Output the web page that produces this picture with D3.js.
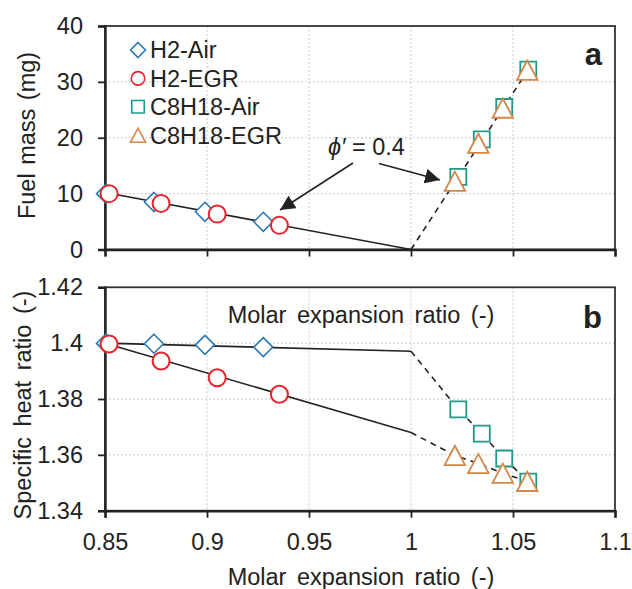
<!DOCTYPE html>
<html><head><meta charset="utf-8">
<script src="https://cdn.jsdelivr.net/npm/d3@7"></script>
<style>body{margin:0;background:#fff}svg{display:block}text{font-family:"Liberation Sans",Arial,sans-serif;fill:#222}</style>
</head><body>
<script>
// ---- data ----
const h2AirX = [0.8505, 0.874, 0.899, 0.9276];
const h2AirMass = [10.0, 8.5, 6.75, 4.96];
const h2AirGamma = [1.3999, 1.3998, 1.3994, 1.3986];
const h2EgrX = [0.852, 0.8775, 0.905, 0.9355];
const h2EgrMass = [10.0, 8.25, 6.34, 4.32];
const h2EgrGamma = [1.3997, 1.3936, 1.3876, 1.3817];
const c8AirX = [1.0232, 1.0347, 1.0457, 1.0575];
const c8AirMass = [13.0, 19.7, 25.5, 32.2];
const c8AirGamma = [1.3763, 1.3676, 1.3587, 1.3504];
const c8EgrX = [1.0215, 1.033, 1.045, 1.057];
const c8EgrMass = [12.2, 19.0, 25.3, 32.1];
const c8EgrGamma = [1.3598, 1.3569, 1.3534, 1.3505];
// trend lines (solid to x=1, dashed beyond)
const massSolidX = [0.85, 1.0], massSolidY = [10.2, 0];
const massDashX = [1.0, 1.0575], massDashY = [0, 32.2];
const gAirSolidX = [0.85, 1.0], gAirSolidY = [1.4, 1.3971];
const gEgrSolidX = [0.85, 1.0], gEgrSolidY = [1.4, 1.368];
const gAirDashX = [1.0].concat(c8AirX), gAirDashY = [1.3971].concat(c8AirGamma);
const gEgrDashX = [1.0].concat(c8EgrX), gEgrDashY = [1.368].concat(c8EgrGamma);
const xTicks = [0.85, 0.9, 0.95, 1, 1.05, 1.1];
const xTickLabels = ["0.85", "0.9", "0.95", "1", "1.05", "1.1"];
const massTicks = [0, 10, 20, 30, 40];
const gammaTicks = [1.34, 1.36, 1.38, 1.40, 1.42];
const gammaTickLabels = ["1.34", "1.36", "1.38", "1.4", "1.42"];
const seriesNames = ["H2-Air", "H2-EGR", "C8H18-Air", "C8H18-EGR"];
const seriesColors = ["#2a78b5", "#e8232b", "#1c9a8c", "#d4884a"];
const seriesShapes = ["diamond", "circle", "square", "triangle"];

const W = 632, H = 589;
const svg = d3.select("body").append("svg").attr("width", W).attr("height", H);
const x = d3.scaleLinear().domain([0.85, 1.1]).range([105, 615]);
const yM = d3.scaleLinear().domain([0, 40]).range([249.5, 26]);
const yG = d3.scaleLinear().domain([1.34, 1.42]).range([510.7, 287.3]);

function shapePath(shape, s) {
  const h = s / 2;
  if (shape === "diamond") return `M0,${-h}L${h},0L0,${h}L${-h},0Z`;
  if (shape === "square") return `M${-h},${-h}H${h}V${h}H${-h}Z`;
  if (shape === "triangle") { const t = s * 0.47; return `M0,${-t}L${h},${t}L${-h},${t}Z`; }
  return `M${h},0A${h},${h},0,1,1,${-h},0A${h},${h},0,1,1,${h},0Z`;
}
const plotSize = {diamond: 19, circle: 17, square: 16, triangle: 20.5};
const legSize = {diamond: 15, circle: 13.5, square: 12.5, triangle: 15};
const strokeW = {diamond: 1.6, circle: 2, square: 1.8, triangle: 1.8};

function panel(y, ticks, labels, gLabel) {
  const g = svg.append("g");
  g.selectAll(".gx").data(xTicks.slice(1, -1)).join("line")
    .attr("x1", d => x(d)).attr("x2", d => x(d))
    .attr("y1", y.range()[1]).attr("y2", y.range()[0])
    .attr("stroke", "#c8c8c8").attr("stroke-width", 1).attr("stroke-dasharray", "2,2");
  g.selectAll(".gy").data(ticks.slice(1, -1)).join("line")
    .attr("x1", 105).attr("x2", 615)
    .attr("y1", d => y(d)).attr("y2", d => y(d))
    .attr("stroke", "#c8c8c8").attr("stroke-width", 1).attr("stroke-dasharray", "2,2");
  g.append("rect").attr("x", 105).attr("y", y.range()[1]).attr("width", 510)
    .attr("height", y.range()[0] - y.range()[1]).attr("fill", "none")
    .attr("stroke", "#333").attr("stroke-width", 1.8);
  const xa = d3.axisBottom(x).tickValues(xTicks).tickSize(7)
    .tickFormat((d, i) => gLabel ? xTickLabels[i] : "");
  const ax = g.append("g").attr("transform", `translate(0,${y.range()[0]})`).call(xa);
  ax.select(".domain").attr("stroke", "#222").attr("stroke-width", 2.4);
  ax.selectAll(".tick line").attr("stroke", "#222").attr("stroke-width", 1.8);
  ax.selectAll(".tick text").attr("font-size", 23.5).attr("dy", 29.3).attr("fill", "#222");
  const ya = d3.axisLeft(y).tickValues(ticks).tickSize(7).tickPadding(15)
    .tickFormat((d, i) => labels[i]);
  const ay = g.append("g").attr("transform", "translate(105,0)").call(ya);
  ay.select(".domain").attr("stroke", "#222").attr("stroke-width", 2.4);
  ay.selectAll(".tick line").attr("stroke", "#222").attr("stroke-width", 1.8);
  ay.selectAll(".tick text").attr("font-size", 23.5).attr("fill", "#222");
  return g;
}

const gA = panel(yM, massTicks, massTicks.map(String), false);
const gB = panel(yG, gammaTicks, gammaTickLabels, true);

function drawLine(g, xs, ys, y, dashed) {
  g.append("path").datum(xs.map((v, i) => [v, ys[i]]))
    .attr("d", d3.line().x(d => x(d[0])).y(d => y(d[1])))
    .attr("fill", "none").attr("stroke", "#222").attr("stroke-width", 1.6)
    .attr("stroke-dasharray", dashed ? "6,5" : null);
}
function drawPts(g, xs, ys, y, k) {
  const sh = seriesShapes[k];
  g.selectAll(null).data(xs.map((v, i) => [v, ys[i]])).join("path")
    .attr("transform", d => `translate(${x(d[0])},${y(d[1])})`)
    .attr("d", shapePath(sh, plotSize[sh]))
    .attr("fill", "#fff").attr("stroke", seriesColors[k]).attr("stroke-width", strokeW[sh]);
}

drawLine(gA, massSolidX, massSolidY, yM, false);
drawLine(gA, massDashX, massDashY, yM, true);
drawPts(gA, h2AirX, h2AirMass, yM, 0);
drawPts(gA, h2EgrX, h2EgrMass, yM, 1);
drawPts(gA, c8AirX, c8AirMass, yM, 2);
drawPts(gA, c8EgrX, c8EgrMass, yM, 3);
drawLine(gB, gAirSolidX, gAirSolidY, yG, false);
drawLine(gB, gEgrSolidX, gEgrSolidY, yG, false);
drawLine(gB, gAirDashX, gAirDashY, yG, true);
drawLine(gB, gEgrDashX, gEgrDashY, yG, true);
drawPts(gB, h2AirX, h2AirGamma, yG, 0);
drawPts(gB, h2EgrX, h2EgrGamma, yG, 1);
drawPts(gB, c8AirX, c8AirGamma, yG, 2);
drawPts(gB, c8EgrX, c8EgrGamma, yG, 3);

// legend
const leg = svg.append("g");
seriesNames.forEach((n, i) => {
  const cy = 50 + i * 28.4;
  const sh = seriesShapes[i];
  leg.append("path").attr("transform", `translate(138,${cy})`)
    .attr("d", shapePath(sh, legSize[sh])).attr("fill", "#fff")
    .attr("stroke", seriesColors[i]).attr("stroke-width", 1.6);
  leg.append("text").attr("x", 150).attr("y", cy + 8.3).attr("font-size", 23.5).text(n);
});

svg.append("text").attr("x", 602).attr("y", 65).attr("text-anchor", "end")
  .attr("font-size", 31).attr("font-weight", "bold").text("a");
svg.append("text").attr("x", 602).attr("y", 328).attr("text-anchor", "end")
  .attr("font-size", 31).attr("font-weight", "bold").text("b");

const ann = svg.append("text").attr("x", 328).attr("y", 155).attr("font-size", 23.5);
ann.append("tspan").attr("font-style", "italic").text("\u03D5\u2032");
ann.append("tspan").text(" = 0.4");
svg.append("defs").append("marker").attr("id", "ah").attr("viewBox", "0 0 10 10")
  .attr("refX", 10).attr("refY", 5).attr("markerWidth", 15).attr("markerHeight", 15)
  .attr("markerUnits", "userSpaceOnUse").attr("orient", "auto")
  .append("path").attr("d", "M0,0L10,5L0,10Z").attr("fill", "#222");
[[353, 163, 280, 210], [379, 163.5, 440, 180]].forEach(a => {
  svg.append("line").attr("x1", a[0]).attr("y1", a[1]).attr("x2", a[2]).attr("y2", a[3])
    .attr("stroke", "#222").attr("stroke-width", 1.6).attr("marker-end", "url(#ah)");
});

svg.append("text").attr("x", 361).attr("y", 323).attr("text-anchor", "middle")
  .attr("font-size", 23.5).attr("word-spacing", 4).text("Molar expansion ratio (-)");
svg.append("text").attr("x", 361).attr("y", 585).attr("text-anchor", "middle")
  .attr("font-size", 23.5).attr("word-spacing", 4).text("Molar expansion ratio (-)");
svg.append("text").attr("transform", "translate(35,135.5) rotate(-90)").attr("text-anchor", "middle")
  .attr("font-size", 23.5).attr("word-spacing", 2).text("Fuel mass (mg)");
svg.append("text").attr("transform", "translate(31,405) rotate(-90)").attr("text-anchor", "middle")
  .attr("font-size", 23.5).attr("word-spacing", 4).text("Specific heat ratio (-)");
</script>
</body></html>
